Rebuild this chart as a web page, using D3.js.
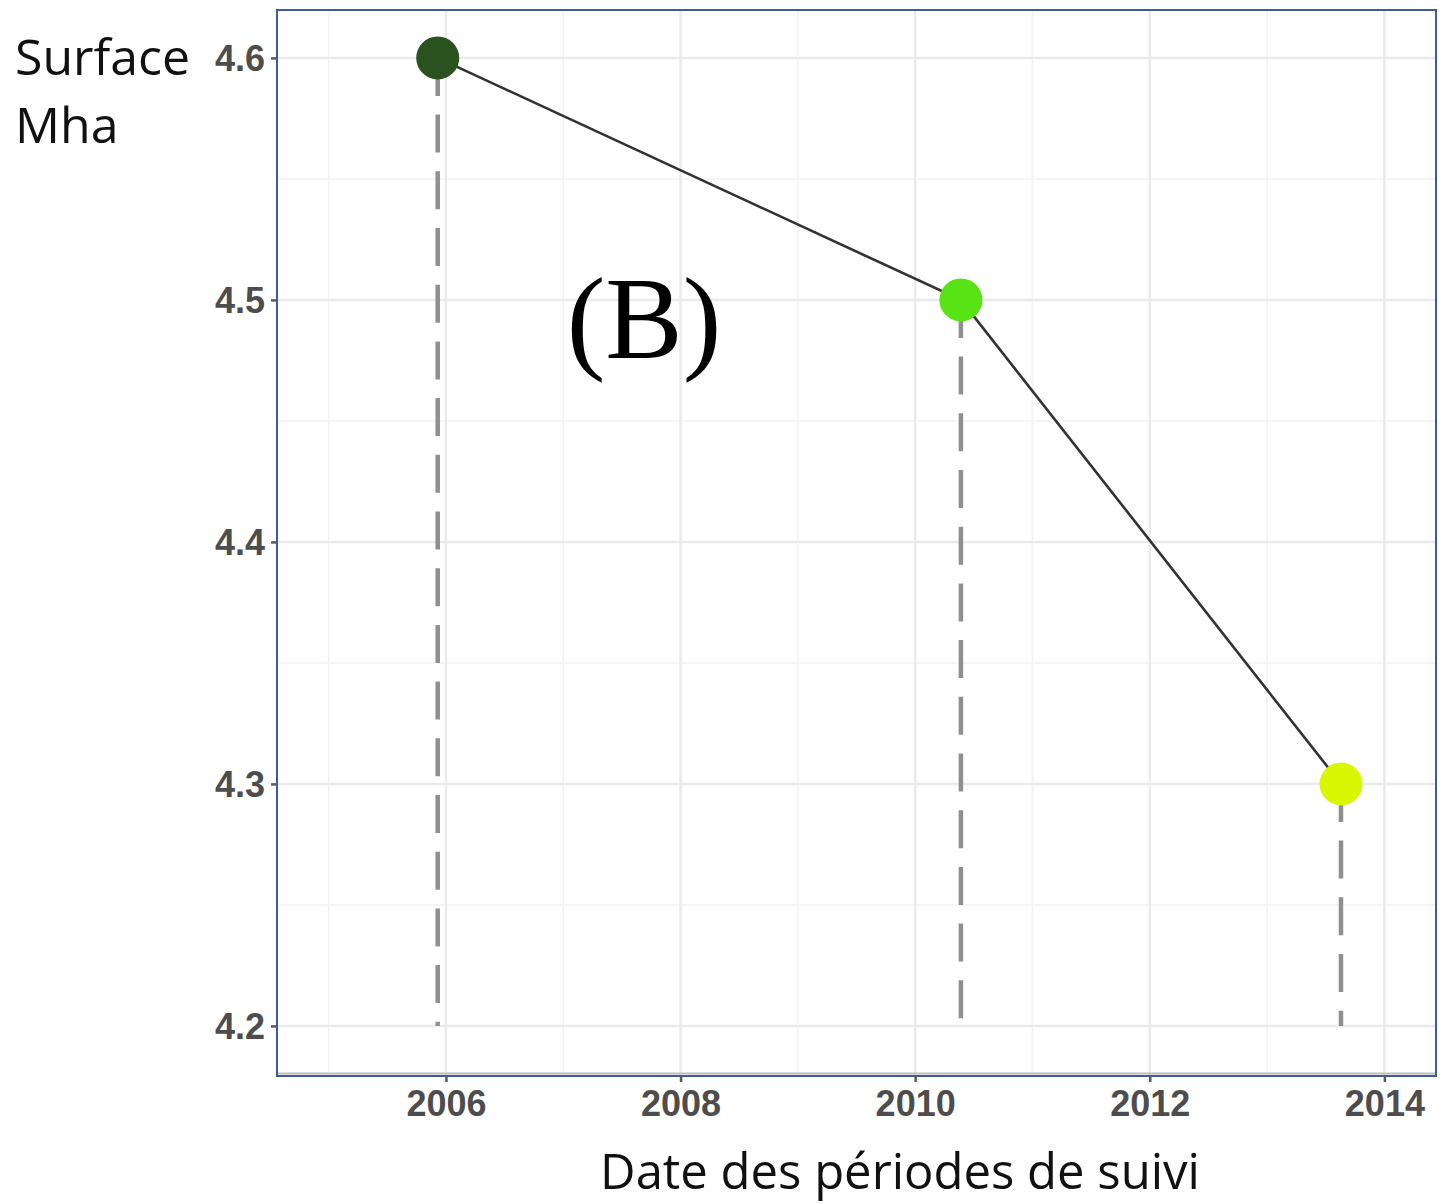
<!DOCTYPE html>
<html>
<head>
<meta charset="utf-8">
<script src="https://cdn.jsdelivr.net/npm/d3@7"></script>
<style>
  html, body { margin: 0; padding: 0; background: #fff; }
  svg { display: block; }
</style>
</head>
<body>
<svg id="chart" width="1448" height="1204"></svg>
<script>
// Surface (Mha) at each monitoring period
const years = [2005.93, 2010.39, 2013.63];
const surface = [4.6, 4.5, 4.3];
const pointColors = ["#29521f", "#58e314", "#d9f700"];
const xTicks = [2006, 2008, 2010, 2012, 2014];
const yTicks = [4.2, 4.3, 4.4, 4.5, 4.6];
const xMinor = [2005, 2007, 2009, 2011, 2013];
const yMinor = [4.25, 4.35, 4.45, 4.55];
const baseline = 4.2;

const svg = d3.select("#chart");
const panel = { left: 277, right: 1436, top: 10, bottom: 1076 };

const x = d3.scaleLinear().domain([2004.56, 2014.44]).range([panel.left, panel.right]);
const y = d3.scaleLinear().domain([4.1793, 4.6198]).range([panel.bottom, panel.top]);

// panel grid
const grid = svg.append("g");
grid.selectAll(".xminor").data(xMinor).join("line")
  .attr("x1", d => x(d)).attr("x2", d => x(d))
  .attr("y1", panel.top).attr("y2", panel.bottom)
  .attr("stroke", "#f2f2f2").attr("stroke-width", 1.5);
grid.selectAll(".yminor").data(yMinor).join("line")
  .attr("x1", panel.left).attr("x2", panel.right)
  .attr("y1", d => y(d)).attr("y2", d => y(d))
  .attr("stroke", "#f2f2f2").attr("stroke-width", 1.5);
grid.selectAll(".xmajor").data(xTicks).join("line")
  .attr("x1", d => x(d)).attr("x2", d => x(d))
  .attr("y1", panel.top).attr("y2", panel.bottom)
  .attr("stroke", "#eaeaea").attr("stroke-width", 2.5);
grid.selectAll(".ymajor").data(yTicks).join("line")
  .attr("x1", panel.left).attr("x2", panel.right)
  .attr("y1", d => y(d)).attr("y2", d => y(d))
  .attr("stroke", "#eaeaea").attr("stroke-width", 2.5);

// dashed drop lines from each point to the baseline
svg.append("g").selectAll("line").data(years).join("line")
  .attr("x1", d => x(d)).attr("x2", d => x(d))
  .attr("y1", (d, i) => y(surface[i])).attr("y2", y(baseline))
  .attr("stroke", "#8f8f8f").attr("stroke-width", 4.5)
  .attr("stroke-dasharray", "38,18.7");

// connecting line
const pts = years.map((d, i) => [d, surface[i]]);
svg.append("path")
  .datum(pts)
  .attr("fill", "none")
  .attr("stroke", "#333333")
  .attr("stroke-width", 2.6)
  .attr("d", d3.line().x(d => x(d[0])).y(d => y(d[1])));

// points
svg.append("g").selectAll("circle").data(pts).join("circle")
  .attr("cx", d => x(d[0])).attr("cy", d => y(d[1]))
  .attr("r", 21.5)
  .attr("fill", (d, i) => pointColors[i]);

// panel border
svg.append("line")
  .attr("x1", panel.left).attr("x2", panel.right)
  .attr("y1", panel.bottom - 2.5).attr("y2", panel.bottom - 2.5)
  .attr("stroke", "#bdbdbd").attr("stroke-width", 2);
svg.append("rect")
  .attr("x", panel.left).attr("y", panel.top)
  .attr("width", panel.right - panel.left).attr("height", panel.bottom - panel.top)
  .attr("fill", "none").attr("stroke", "#3e5c99").attr("stroke-width", 2);

// axes
const tickFont = "'Liberation Sans', Arial, sans-serif";
const yAxis = svg.append("g")
  .attr("transform", `translate(${panel.left},0)`)
  .call(d3.axisLeft(y).tickValues(yTicks).tickFormat(d3.format(".1f")).tickSize(6).tickPadding(6));
const xAxis = svg.append("g")
  .attr("transform", `translate(0,${panel.bottom})`)
  .call(d3.axisBottom(x).tickValues(xTicks).tickFormat(d3.format("d")).tickSize(6).tickPadding(8));
[yAxis, xAxis].forEach(a => {
  a.select(".domain").remove();
  a.selectAll(".tick line").attr("stroke", "#5a5a5a").attr("stroke-width", 2.5);
  a.selectAll(".tick text")
    .attr("fill", "#4d4d4d")
    .style("font-family", tickFont)
    .style("font-weight", "bold")
    .style("font-size", "36px");
});
yAxis.selectAll(".tick text").attr("dy", "0.34em");
xAxis.selectAll(".tick text").attr("dy", "0.72em");

// titles
const titleFont = "'Open Sans', 'Noto Sans', sans-serif";
svg.append("text").attr("x", 15).attr("y", 75)
  .style("font-family", titleFont).style("font-size", "50px").attr("fill", "#111")
  .text("Surface");
svg.append("text").attr("x", 15).attr("y", 143)
  .style("font-family", titleFont).style("font-size", "50px").attr("fill", "#111")
  .text("Mha");
svg.append("text").attr("x", 900).attr("y", 1189)
  .attr("text-anchor", "middle")
  .style("font-family", titleFont).style("font-size", "49px").attr("fill", "#111")
  .text("Date des périodes de suivi");

// panel tag
svg.append("text").attr("x", 644).attr("y", 358)
  .attr("text-anchor", "middle")
  .style("font-family", "'Liberation Serif', 'Times New Roman', serif")
  .style("font-size", "116px").attr("fill", "#000")
  .text("(B)");
</script>
</body>
</html>
